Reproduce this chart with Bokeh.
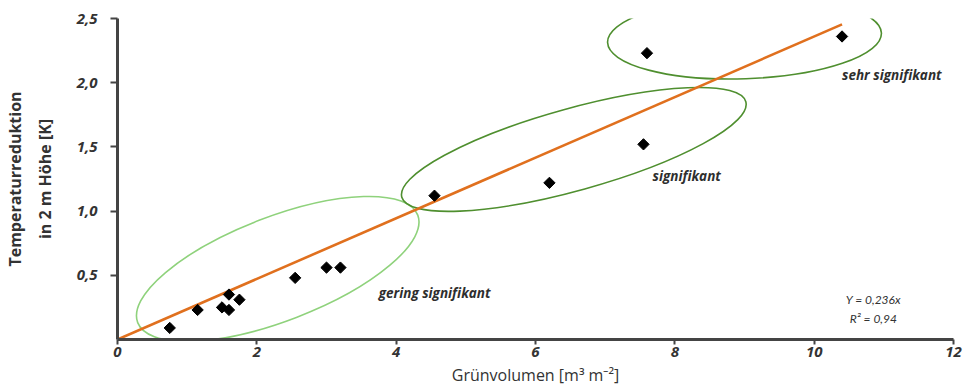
import math
from bokeh.plotting import figure
from bokeh.models import Range1d, FixedTicker, Label
from bokeh.embed import file_html
from bokeh.resources import INLINE

# ---- data ----
green_volume = [0.75, 1.15, 1.5, 1.6, 1.6, 1.75, 2.55, 3.0, 3.2, 4.55, 6.2, 7.55, 7.6, 10.4]
temp_reduction = [0.09, 0.23, 0.25, 0.35, 0.23, 0.31, 0.48, 0.56, 0.56, 1.12, 1.22, 1.52, 2.23, 2.36]
fit_slope = 0.236
fit_x_end = 10.4
x_ticks = [0, 2, 4, 6, 8, 10, 12]
y_ticks = [0.5, 1.0, 1.5, 2.0, 2.5]
y_tick_labels = ["0,5", "1,0", "1,5", "2,0", "2,5"]
group_names = ["gering signifikant", "signifikant", "sehr signifikant"]
fit_text = ["Y = 0,236x", "R² = 0,94"]

# ---- annotation layout (ellipses around groups) ----
ell_x = [2.3, 6.55, 9.0]
ell_y = [0.55, 1.48, 2.35]
ell_w = [300, 357, 274]
ell_h = [104, 82, 82]
ell_deg = [21, 15.5, 2]
ell_col = ["#8fd27c", "#4f8f2f", "#4f8f2f"]

FONT = "Open Sans"
DARK = "#333333"

p = figure(width=966, height=388, output_backend="svg", toolbar_location=None,
           x_range=Range1d(0, 12), y_range=Range1d(0, 2.5),
           min_border_left=115, min_border_right=13, min_border_top=18, min_border_bottom=45)
p.outline_line_color = None
p.xgrid.visible = False
p.ygrid.visible = False
p.background_fill_color = "white"

for ax in (p.xaxis[0], p.yaxis[0]):
    ax.axis_line_color = "#444444"
    ax.axis_line_width = 3
    ax.major_tick_line_color = "#444444"
    ax.major_tick_line_width = 2
    ax.major_tick_in = 0
    ax.minor_tick_line_color = None
    ax.major_label_text_font = FONT
    ax.major_label_text_font_style = "bold italic"
    ax.major_label_text_font_size = "15px"
    ax.major_label_text_color = DARK
    ax.axis_label_text_font = FONT
    ax.axis_label_text_color = DARK
    ax.axis_label_text_font_size = "15px"

p.xaxis.ticker = FixedTicker(ticks=x_ticks)
p.xaxis.major_tick_out = 5
p.xaxis.major_label_standoff = 2
p.xaxis.axis_label = "Grünvolumen [m³ m⁻²]"
p.xaxis.axis_label_text_font_style = "normal"
p.xaxis.axis_label_text_font_size = "16px"
p.xaxis.axis_label_standoff = 4

p.yaxis.ticker = FixedTicker(ticks=y_ticks)
p.yaxis.major_label_overrides = {t: s for t, s in zip(y_ticks, y_tick_labels)}
p.yaxis.major_tick_out = 7
p.yaxis.major_label_standoff = 13
p.yaxis.axis_label = "Temperaturreduktion\nin 2 m Höhe [K]"
p.yaxis.axis_label_text_font_style = "bold"
p.yaxis.axis_label_text_font_size = "16px"
p.yaxis.axis_label_text_line_height = 1.35
p.yaxis.axis_label_standoff = 18

# ellipses
p.ellipse(x=ell_x, y=ell_y, width=ell_w, height=ell_h,
          angle=[math.radians(a) for a in ell_deg],
          width_units="screen", height_units="screen",
          fill_color=None, line_color=ell_col, line_width=1.6)

# regression line
p.line(x=[0, fit_x_end], y=[0, fit_slope * fit_x_end], line_color="#e0701e", line_width=2.6)

# points
p.scatter(x=green_volume, y=temp_reduction, marker="square", angle=math.pi / 4,
          size=8, fill_color="black", line_color="black")

# group labels
lab_pos = [(3.75, 0.36), (7.68, 1.27), (10.4, 2.06)]
for name, (lx, ly) in zip(group_names, lab_pos):
    p.add_layout(Label(x=lx, y=ly, text=name, text_font=FONT, text_font_style="bold italic",
                       text_font_size="13.5px", text_color="#2e2e2e", text_baseline="middle"))

p.add_layout(Label(x=10.85, y=0.31, text=fit_text[0], text_font="Lato", text_font_style="italic",
                   text_font_size="12px", text_color=DARK, text_align="center", text_baseline="middle"))
p.add_layout(Label(x=10.85, y=0.165, text=fit_text[1], text_font="Lato", text_font_style="italic",
                   text_font_size="12px", text_color=DARK, text_align="center", text_baseline="middle"))

open("out.html", "w").write(file_html(p, INLINE))
